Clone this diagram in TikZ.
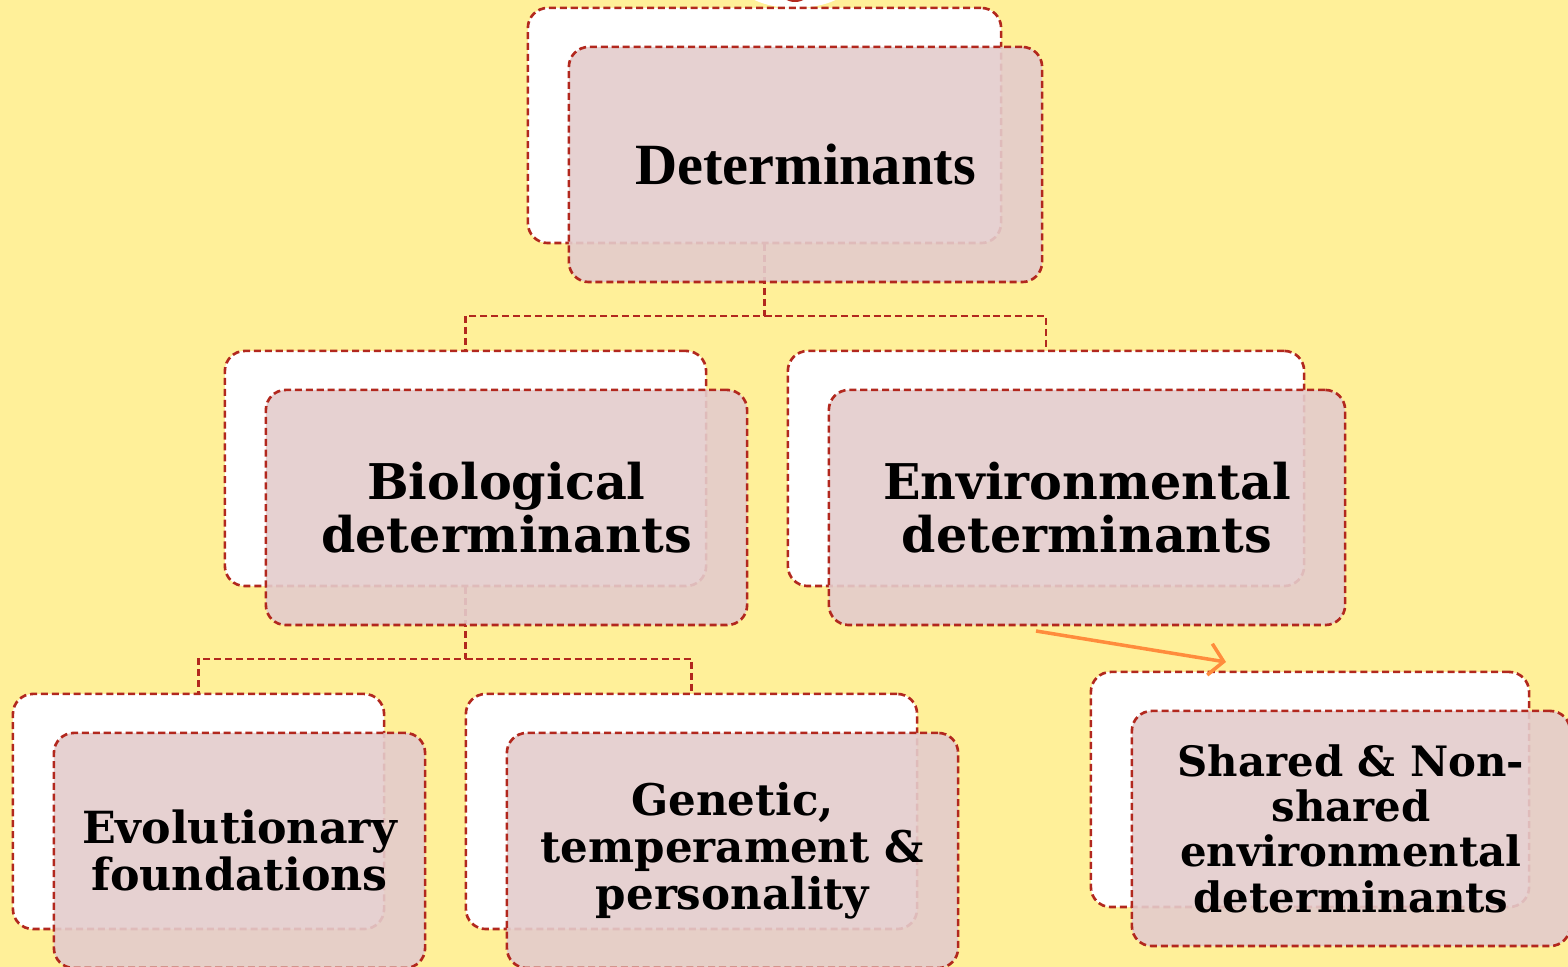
\documentclass[tikz,border=0pt]{standalone}
\usepackage{fontspec}
\newfontfamily\gfont{DejaVu Serif}
\newfontfamily\tfont{Liberation Serif}
\usetikzlibrary{arrows.meta}
\definecolor{bg}{RGB}{255,240,153}
\definecolor{dred}{RGB}{178,40,30}
\definecolor{pinkf}{RGB}{228,204,204}
\definecolor{orng}{RGB}{255,140,60}
\tikzset{
  dline/.style={draw=dred, line width=0.75pt, dash pattern=on 2pt off 1.1pt},
  backbox/.style={dline, fill=white, rounded corners=0.2cm, minimum width=#1, minimum height=2.35cm, inner sep=0pt},
  frontbox/.style={dline, fill=pinkf, fill opacity=0.9, text opacity=1, rounded corners=0.2cm, minimum width=#1, minimum height=2.35cm, inner sep=0pt, align=center, font=\gfont\bfseries},
  conn/.style={dline},
  orarrow/.style={draw=orng, line width=1pt, -{Straight Barb[length=4pt,width=9pt]}}
}
\begin{document}
\begin{tikzpicture}[x=0.01cm, y=-0.01cm]
\useasboundingbox (0,0) rectangle (1568,967);
\fill[bg] (0,0) rectangle (1568,967);
% partial shape at top
\fill[white] (795,-18) ellipse (56 and 26);
\fill[dred] (795,-10) ellipse (15 and 12);
% connectors
\coordinate (j1) at (764.5,316);
\coordinate (j2) at (465.5,659);
\coordinate (a1) at (1036,631);
\coordinate (a2) at (1226,662);
% back boxes
\node[backbox=4.73cm] (d0) at (764.5,125.5) {};
\node[backbox=4.81cm] (b0) at (465.5,468.5) {};
\node[backbox=5.16cm] (e0) at (1046,468.5) {};
\node[backbox=3.71cm] (v0) at (198.5,811.5) {};
\node[backbox=4.51cm] (g0) at (691.5,811.5) {};
\node[backbox=4.38cm] (s0) at (1310,789.5) {};
\draw[conn] (d0.south) -- (j1) -| (b0.north);
\draw[conn] (j1) -| (e0.north);
\draw[conn] (b0.south) -- (j2) -| (v0.north);
\draw[conn] (j2) -| (g0.north);
% front boxes
\node[frontbox=4.73cm, font=\tfont\bfseries\fontsize{16.6pt}{18pt}\selectfont] (d) at (805.5,164.5) {Determinants};
\node[frontbox=4.81cm, font=\gfont\bfseries\fontsize{14pt}{15.1pt}\selectfont] (b) at (506.5,507.5) {Biological\\determinants};
\node[frontbox=5.16cm, font=\gfont\bfseries\fontsize{14pt}{15.1pt}\selectfont] (e) at (1087,507.5) {Environmental\\determinants};
\node[frontbox=3.71cm, font=\gfont\bfseries\fontsize{12.6pt}{13.1pt}\selectfont] (v) at (239.5,850.5) {Evolutionary\\foundations};
\node[frontbox=4.51cm, font=\gfont\bfseries\fontsize{12.4pt}{13.4pt}\selectfont] (g) at (732.5,850.5) {Genetic,\\temperament \&\\personality};
\node[frontbox=4.38cm, font=\gfont\bfseries\fontsize{11.9pt}{12.9pt}\selectfont] (s) at (1351,828.5) {Shared \& Non-\\shared\\environmental\\determinants};
\draw[orarrow] (a1) -- (a2);
\end{tikzpicture}
\end{document}
